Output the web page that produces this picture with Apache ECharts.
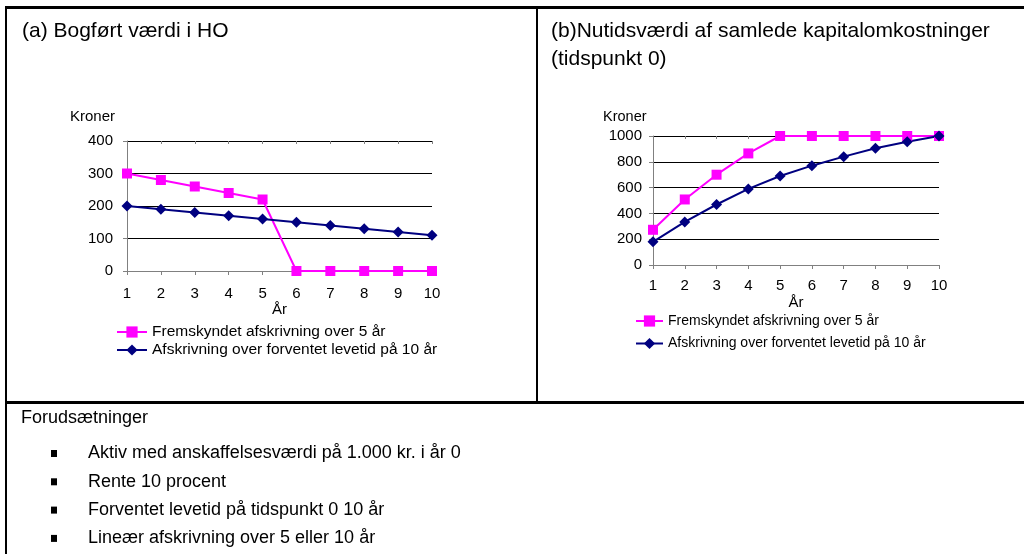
<!DOCTYPE html>
<html>
<head>
<meta charset="utf-8">
<script src="https://cdn.jsdelivr.net/npm/echarts@6/dist/echarts.min.js"></script>
<style>
html,body{margin:0;padding:0;background:#fff;}
#c{width:1024px;height:554px;}
</style>
</head>
<body>
<div id="c"></div>
<script>
const years = ['1','2','3','4','5','6','7','8','9','10'];
const seriesNames = ['Fremskyndet afskrivning over 5 år', 'Afskrivning over forventet levetid på 10 år'];
const aFremskyndet = [300, 280, 260, 240, 220, 0, 0, 0, 0, 0];
const aLevetid = [200, 190, 180, 170, 160, 150, 140, 130, 120, 110];
const bFremskyndet = [273, 508, 700, 865, 1000, 1000, 1000, 1000, 1000, 1000];
const bLevetid = [180, 334, 469, 590, 690, 770, 840, 905, 955, 1000];
const aYTicks = [0, 100, 200, 300, 400];
const bYTicks = [0, 200, 400, 600, 800, 1000];
const titleA = '(a) Bogført værdi i HO';
const titleB = ['(b)Nutidsværdi af samlede kapitalomkostninger', '(tidspunkt 0)'];
const yName = 'Kroner';
const xName = 'År';
const premisesTitle = 'Forudsætninger';
const premises = [
  'Aktiv med anskaffelsesværdi på 1.000 kr. i år 0',
  'Rente 10 procent',
  'Forventet levetid på tidspunkt 0 10 år',
  'Lineær afskrivning over 5 eller 10 år'
];

const FONT = 'Liberation Sans, Arial, sans-serif';
const PINK = '#FF00FF';
const NAVY = '#000080';

function xAxisCfg(gridIndex, fs, margin, nameGap) {
  return {
    type: 'category', gridIndex: gridIndex, data: years, boundaryGap: false,
    name: xName, nameLocation: 'middle', nameGap: nameGap,
    nameTextStyle: {fontFamily: FONT, fontSize: fs, color: '#000'},
    axisLine: {lineStyle: {color: '#808080', width: 1}},
    axisTick: {show: true, length: 4, lineStyle: {color: '#808080'}},
    axisLabel: {fontFamily: FONT, fontSize: fs, color: '#000', margin: margin},
    splitLine: {show: false}
  };
}
// overlay axis that draws the upper half of the crossing ticks
function xTickOverlay(gridIndex) {
  return {
    type: 'category', gridIndex: gridIndex, data: years, boundaryGap: false,
    axisLine: {show: false},
    axisTick: {show: true, inside: true, length: 3, lineStyle: {color: '#808080'}},
    axisLabel: {show: false},
    splitLine: {show: false}
  };
}
function yAxisCfg(gridIndex, ticks, fs, margin) {
  return {
    type: 'value', gridIndex: gridIndex,
    min: ticks[0], max: ticks[ticks.length - 1], interval: ticks[1] - ticks[0],
    axisLine: {show: true, lineStyle: {color: '#808080', width: 1}},
    axisTick: {show: true, length: 4, lineStyle: {color: '#808080'}},
    axisLabel: {fontFamily: FONT, fontSize: fs, color: '#000', margin: margin,
                formatter: function (v) { return String(v); }},
    splitLine: {show: true, lineStyle: {color: '#000', width: 1}}
  };
}
function lineSeries(name, idx, data, color, symbol, size) {
  return {
    name: name, type: 'line', xAxisIndex: idx, yAxisIndex: idx, data: data,
    symbol: symbol, symbolSize: size, showSymbol: true,
    lineStyle: {color: color, width: 2},
    itemStyle: {color: color, borderWidth: 0},
    animation: false
  };
}

const graphics = [];
function rect(x, y, w, h) {
  graphics.push({type: 'rect', shape: {x: x, y: y, width: w, height: h}, style: {fill: '#000'}, silent: true});
}
function text(t, x, y, fs) {
  graphics.push({type: 'text', x: x, y: y, style: {text: t, font: fs + 'px ' + FONT, fill: '#000', align: 'left', verticalAlign: 'middle'}, silent: true});
}
// table borders
rect(5, 6, 1019, 3);
rect(5, 6, 2, 548);
rect(536, 6, 2, 398);
rect(5, 401, 1019, 3);
// titles
text(titleA, 22, 31, 21);
text(titleB[0], 551, 31, 21);
text(titleB[1], 551, 59, 21);
// axis names (Kroner)
text(yName, 70, 117, 15);
text(yName, 603, 117, 14.5);
// premises
text(premisesTitle, 21, 418, 18);
premises.forEach(function (p, i) {
  const cy = 453.5 + i * 28.3;
  rect(51, cy - 3.5, 6, 7);
  text(p, 88, cy, 18);
});

const option = {
  animation: false,
  backgroundColor: '#fff',
  grid: [
    {left: 127, right: 1024 - 432, top: 141, bottom: 554 - 271},
    {left: 653, right: 1024 - 939, top: 136, bottom: 554 - 265}
  ],
  xAxis: [xAxisCfg(0, 15, 15, 31), xAxisCfg(1, 15, 13, 30), xTickOverlay(0), xTickOverlay(1)],
  yAxis: [yAxisCfg(0, aYTicks, 15, 14), yAxisCfg(1, bYTicks, 15, 11)],
  legend: [
    {data: seriesNames, orient: 'vertical', left: 116, top: 324, itemWidth: 30, itemHeight: 14, itemGap: 2,
     selectedMode: false, padding: 0, textStyle: {fontFamily: FONT, fontSize: 15.5, color: '#000'}},
    {data: seriesNames, orient: 'vertical', left: 635, top: 314, itemWidth: 27, itemHeight: 14, itemGap: 8.5,
     selectedMode: false, padding: 0, textStyle: {fontFamily: FONT, fontSize: 14, color: '#000'}}
  ],
  series: [
    lineSeries(seriesNames[0], 0, aFremskyndet, PINK, 'rect', 10),
    lineSeries(seriesNames[1], 0, aLevetid, NAVY, 'diamond', 11),
    lineSeries(seriesNames[0], 1, bFremskyndet, PINK, 'rect', 10),
    lineSeries(seriesNames[1], 1, bLevetid, NAVY, 'diamond', 11)
  ],
  graphic: graphics
};
const chart = echarts.init(document.getElementById('c'), null, {renderer: 'canvas'});
chart.setOption(option);
</script>
</body>
</html>
